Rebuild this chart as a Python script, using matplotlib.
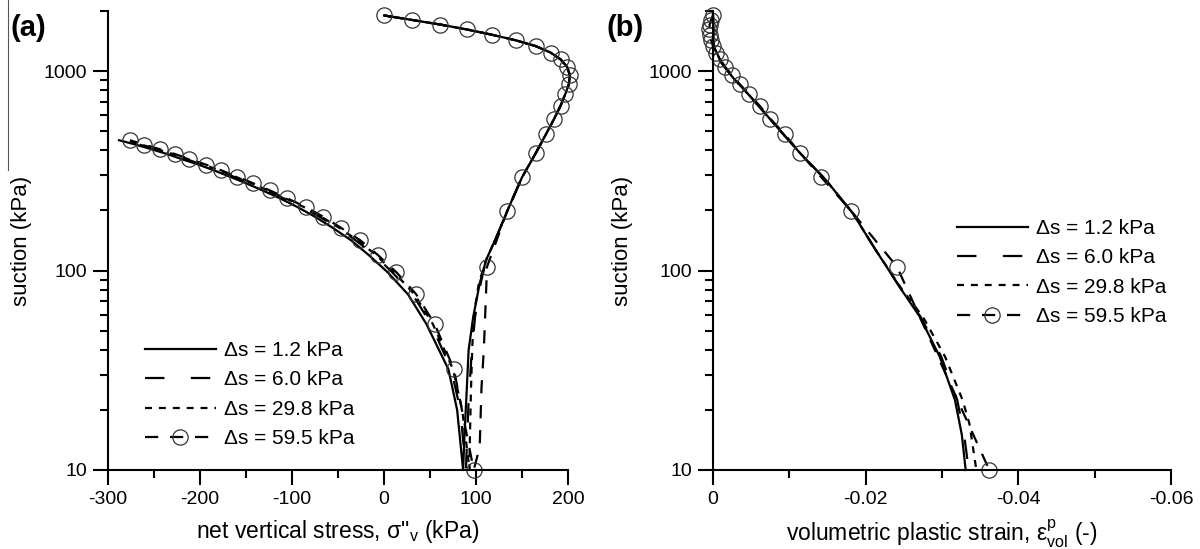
import numpy as np
import matplotlib
matplotlib.use('Agg')
import matplotlib.pyplot as plt
from matplotlib.ticker import MultipleLocator, NullFormatter, LogLocator
from matplotlib.lines import Line2D

plt.rcParams['font.family'] = ['Liberation Sans', 'DejaVu Sans']
plt.rcParams['mathtext.fontset'] = 'custom'
plt.rcParams['mathtext.rm'] = 'Liberation Sans'
plt.rcParams['mathtext.it'] = 'Liberation Sans:italic'
plt.rcParams['axes.unicode_minus'] = False
plt.rcParams['lines.scale_dashes'] = False

# ---- panel (a): suction vs net vertical stress ----
# shared wetting branch (1900 -> ~200 kPa)
s_up = [1900, 1805, 1711, 1616, 1522, 1427, 1333, 1238, 1144, 1049, 955,
        860, 766, 671, 577, 482, 388, 293, 199]
x_up = [0, 30, 61, 90, 117, 143, 165, 181, 192, 199, 202,
        201, 197, 192, 185, 176, 165, 150, 134]

# drying branch suction levels (10 -> 450 kPa)
s_dry = [20, 32, 54, 76, 98, 120, 142, 164, 186, 208, 230, 252, 274, 296,
         318, 340, 362, 384, 406, 428, 450]

# ds = 1.2 kPa
s_a12_low = [150, 113, 86, 58.6, 40, 22.4, 15, 10]
x_a12_low = [123, 111, 104, 97, 92, 89.4, 87.5, 86]
x_a12_dry = [79.5, 70, 46, 26, 4, -17, -36, -56, -75, -94, -113, -132, -150,
             -168, -185, -202, -220, -236, -253, -270, -288]

# ds = 6.0 kPa
s_a60_low = [150, 113, 86, 58.6, 40, 22.4, 10]
x_a60_low = [123, 111, 105, 99, 95.5, 92, 89]
x_a60_dry = [83, 73, 51, 31, 9, -11, -31, -51, -70, -89, -109, -128, -146,
             -164, -181, -198, -215, -232, -249, -266, -282]

# ds = 29.8 kPa
s_a298_low = [150, 113, 86, 61, 42, 25, 12, 10]
x_a298_low = [123, 111, 103, 98, 96, 94.5, 93, 93]
x_a298_dry = [85, 75, 53, 33, 11, -9, -29, -49, -68, -87, -107, -126, -144,
              -162, -179, -196, -213, -230, -247, -264, -280]

# ds = 59.5 kPa (True = point carries a marker)
s_a595_low = [104.5, 60, 40, 26, 13, 10]
x_a595_low = [112, 110, 108.5, 106, 104, 97.5]
m_a595_low = [True, False, False, False, False, True]
s_a595_dry = [32, 54, 76, 98, 120, 142, 164, 186, 208, 230, 252, 274, 296,
              318, 340, 362, 384, 406, 428, 450]
x_a595_dry = [76, 55, 35, 13.5, -7, -26, -47, -66, -85, -105, -124, -142.5,
              -160, -177, -194, -211.5, -227.5, -244, -261, -276]

# ---- panel (b): suction vs volumetric plastic strain ----
s_b12 = [1900, 1330, 1100, 918, 745, 550, 388, 284, 194, 127, 80, 58.6, 37,
         22.4, 15, 10]
e_b12 = [0, -0.0001, -0.0011, -0.0027, -0.0049, -0.0079, -0.0114, -0.0148,
         -0.0183, -0.0213, -0.0247, -0.0271, -0.0297, -0.0317, -0.0326, -0.0331]
s_b60 = [1900, 1330, 1100, 918, 745, 550, 388, 284, 194, 127, 80, 58.6, 37,
         22.4, 15, 10]
e_b60 = [0, -0.0001, -0.0011, -0.0027, -0.0049, -0.0079, -0.0114, -0.0148,
         -0.0183, -0.0213, -0.0247, -0.0272, -0.0299, -0.0320, -0.0329, -0.0335]
s_b298 = [1900, 1330, 1100, 918, 745, 550, 388, 284, 194, 127, 80, 58.6, 37,
          22.4, 17, 10]
e_b298 = [0, -0.0001, -0.0011, -0.0027, -0.0049, -0.0079, -0.0114, -0.0148,
          -0.0183, -0.0213, -0.0248, -0.0275, -0.0304, -0.0327, -0.0336, -0.0345]
s_b595 = [1900, 1805, 1711, 1616, 1522, 1427, 1333, 1238, 1144, 1049, 955,
          860, 766, 671, 577, 482, 388, 293, 199, 104.5, 10]
e_b595 = [0, 0.00026, 0.00044, 0.00048, 0.00044, 0.00026, 0, -0.00044,
          -0.00095, -0.0016, -0.0025, -0.0035, -0.0047, -0.0061, -0.0075,
          -0.0094, -0.0114, -0.0142, -0.0181, -0.0241, -0.0362]

labels = ['Δs = 1.2 kPa', 'Δs = 6.0 kPa', 'Δs = 29.8 kPa', 'Δs = 59.5 kPa']

LW = 1.6
styles = [
    dict(color='black', lw=LW, linestyle='-'),
    dict(color='black', lw=LW, dashes=(14, 19)),
    dict(color='black', lw=LW, dashes=(5, 5)),
    dict(color='black', lw=LW, dashes=(9.5, 8.5), marker='o', ms=11,
         mfc='none', mec='#333333', mew=0.9),
]

fig = plt.figure(figsize=(12, 5.49), dpi=100)
ax1 = fig.add_axes([108 / 1200, 1 - 470 / 549, 460 / 1200, 459 / 549])
ax2 = fig.add_axes([713 / 1200, 1 - 470 / 549, 458 / 1200, 459 / 549])

# panel a curves
a_series = [
    (s_up + s_a12_low + s_dry, x_up + x_a12_low + x_a12_dry, None),
    (s_up + s_a60_low + s_dry, x_up + x_a60_low + x_a60_dry, None),
    (s_up + s_a298_low + s_dry, x_up + x_a298_low + x_a298_dry, None),
    (s_up + s_a595_low + s_a595_dry, x_up + x_a595_low + x_a595_dry,
     [True] * len(s_up) + m_a595_low + [True] * len(s_a595_dry)),
]
for (s, x, me), st, lab in zip(a_series, styles, labels):
    ax1.plot(x, s, label=lab, clip_on=False, markevery=me, **st)

b_series = [(s_b12, e_b12), (s_b60, e_b60), (s_b298, e_b298), (s_b595, e_b595)]
for (s, e), st, lab in zip(b_series, styles, labels):
    ax2.plot(e, s, label=lab, clip_on=False, **st)

legend_anchor = {0: (37 / 460, 0.281), 1: (244 / 458, 0.547)}

for i, ax in enumerate((ax1, ax2)):
    ax.set_yscale('log')
    ax.set_ylim(10, 2000)
    ax.set_yticks([10, 100, 1000])
    ax.set_yticklabels(['10', '100', '1000'])
    ax.yaxis.set_minor_locator(LogLocator(base=10, subs=np.arange(2, 10)))
    ax.yaxis.set_minor_formatter(NullFormatter())
    for side in ('top', 'right'):
        ax.spines[side].set_visible(False)
    for side in ('left', 'bottom'):
        ax.spines[side].set_linewidth(1.5)
    ax.tick_params(which='major', direction='out', length=11, width=1.5,
                   labelsize=14, pad=4)
    ax.tick_params(which='minor', direction='out', length=5.5, width=1.5)
    ax.set_ylabel('suction (kPa)', fontsize=16)
    ax.legend(frameon=False, fontsize=15, handlelength=3.4, handletextpad=0.4,
              labelspacing=0.5, borderpad=0, borderaxespad=0,
              loc='upper left', numpoints=1,
              bbox_to_anchor=legend_anchor[i])

ax1.set_xlim(-300, 200)
ax1.set_xticks([-300, -200, -100, 0, 100, 200])
ax1.set_xticklabels(['-300', '-200', '-100', '0', '100', '200'])
ax1.xaxis.set_minor_locator(MultipleLocator(50))
ax1.set_xlabel('net vertical stress, σ"$_\\mathrm{v}$ (kPa)', fontsize=16.5)

ax2.set_xlim(0, -0.06)
ax2.set_xticks([0, -0.02, -0.04, -0.06])
ax2.set_xticklabels(['0', '-0.02', '-0.04', '-0.06'])
ax2.xaxis.set_minor_locator(MultipleLocator(0.01))
ax2.set_xlabel('volumetric plastic strain, ε$^\\mathrm{p}_\\mathrm{vol}$ (-)',
               fontsize=16.5)

ax1.xaxis.set_label_coords(0.5, -0.105)
ax2.xaxis.set_label_coords(0.5, -0.105)
ax1.yaxis.set_label_coords(-0.165, 0.5)
ax2.yaxis.set_label_coords(-0.175, 0.5)

fig.text(11 / 1200, 1 - 28 / 549, '(a)', fontsize=21, fontweight='bold',
         ha='left', va='center')
fig.text(606 / 1200, 1 - 28 / 549, '(b)', fontsize=21, fontweight='bold',
         ha='left', va='center')

# thin scan edge line at far left
fig.add_artist(Line2D([8 / 1200, 8 / 1200], [1, 1 - 170 / 549],
                      transform=fig.transFigure, color='#555555', lw=0.8))

fig.savefig('out.png', dpi=100)
